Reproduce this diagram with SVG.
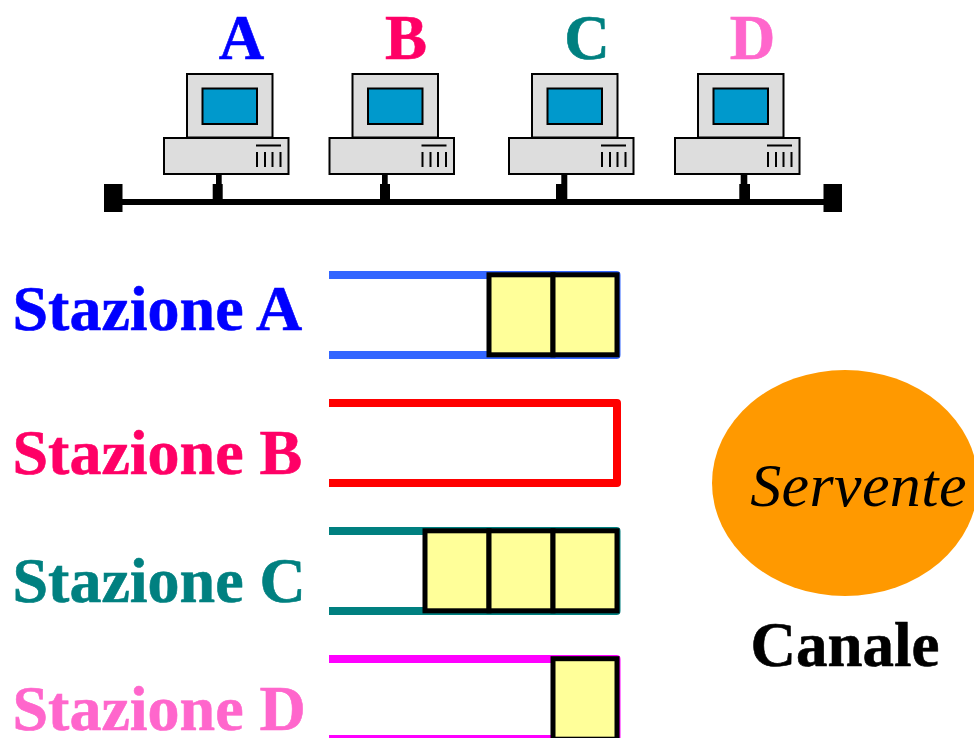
<svg xmlns="http://www.w3.org/2000/svg" width="974" height="738" viewBox="0 0 974 738">
<style>
.t{font-family:"Liberation Serif","Times New Roman",serif;font-weight:bold;stroke-width:.6;paint-order:stroke}
.h{font-size:63px;text-anchor:middle}
.s{font-size:64px}
.q{fill:none;stroke-width:8;stroke-linejoin:round}
.c{fill:#ffff99;stroke:#000;stroke-width:5}
.g{fill:#dddddd;stroke:#000;stroke-width:2}
</style>
<defs>
<g id="pc">
<rect class="g" x="187" y="74" width="85.500" height="63.500"/>
<rect x="202.500" y="88.500" width="54.500" height="35.500" fill="#0099cc" stroke="#000" stroke-width="2"/>
<rect class="g" x="164" y="138" width="124.500" height="36"/>
<path d="M256 145.500H281M257 152V167M265 152V167M272.500 152V167M280.500 152V167" fill="none" stroke="#000" stroke-width="2"/>
</g>
</defs>
<rect width="974" height="738" fill="#fff"/>
<g id="connectors" fill="#000">
<rect x="122" y="199" width="705" height="6" />
<rect x="104" y="184" width="18.500" height="28"/>
<rect x="823.500" y="184" width="18.500" height="28"/>
<path d="M216 174h5.700v10h1v21h-10v-21h3.300z"/>
<path d="M382 174h5.700v10h2.300v16h-10v-16h2z"/>
<path d="M561.300 174h6v26h-11.300v-16h5.300z"/>
<path d="M740.700 174h6.600v10h2.700v16h-10.700v-16h1.400z"/>
</g>
<g id="node-a"><use href="#pc"/><text class="t h" x="241.500" y="59" fill="#0000ff" stroke="#0000ff">A</text></g>
<g id="node-b"><use href="#pc" x="165.500"/><text class="t h" x="406" y="59" fill="#ff0066" stroke="#ff0066">B</text></g>
<g id="node-c"><use href="#pc" x="345"/><text class="t h" x="587" y="59" fill="#008080" stroke="#008080">C</text></g>
<g id="node-d"><use href="#pc" x="511"/><text class="t h" x="752.500" y="59" fill="#ff66cc" stroke="#ff66cc">D</text></g>
<g id="stazione-a">
<text class="t s" x="12.500" y="330" fill="#0000ff" stroke="#0000ff">Stazione A</text>
<path class="q" d="M329 275H616.500V355H329" stroke="#3366ff"/>
<rect class="c" x="489" y="274.800" width="64" height="80"/>
<rect class="c" x="553" y="274.800" width="64" height="80"/>
</g>
<g id="stazione-b">
<text class="t s" x="12.500" y="474" fill="#ff0066" stroke="#ff0066">Stazione B</text>
<path class="q" d="M329 403H617V483H329" stroke="#ff0000"/>
</g>
<g id="stazione-c">
<text class="t s" x="12.500" y="602" fill="#008080" stroke="#008080">Stazione C</text>
<path class="q" d="M329 531H616.500V611H329" stroke="#008080"/>
<rect class="c" x="425" y="530.800" width="64" height="80"/>
<rect class="c" x="489" y="530.800" width="64" height="80"/>
<rect class="c" x="553" y="530.800" width="64" height="80"/>
</g>
<g id="stazione-d">
<text class="t s" x="12.500" y="730" fill="#ff66cc" stroke="#ff66cc">Stazione D</text>
<path class="q" d="M329 659H616.500V739H329" stroke="#ff00ff"/>
<rect class="c" x="553" y="658.700" width="64" height="80.500"/>
</g>
<g id="servente">
<ellipse cx="845" cy="483" rx="133" ry="113" fill="#ff9900"/>
<text x="858.500" y="505.500" font-family="'Liberation Serif','Times New Roman',serif" font-style="italic" font-size="62" letter-spacing=".4" text-anchor="middle" fill="#000">Servente</text>
<text class="t" x="845" y="666" font-size="63" text-anchor="middle" fill="#000" stroke="#000">Canale</text>
</g>
</svg>
